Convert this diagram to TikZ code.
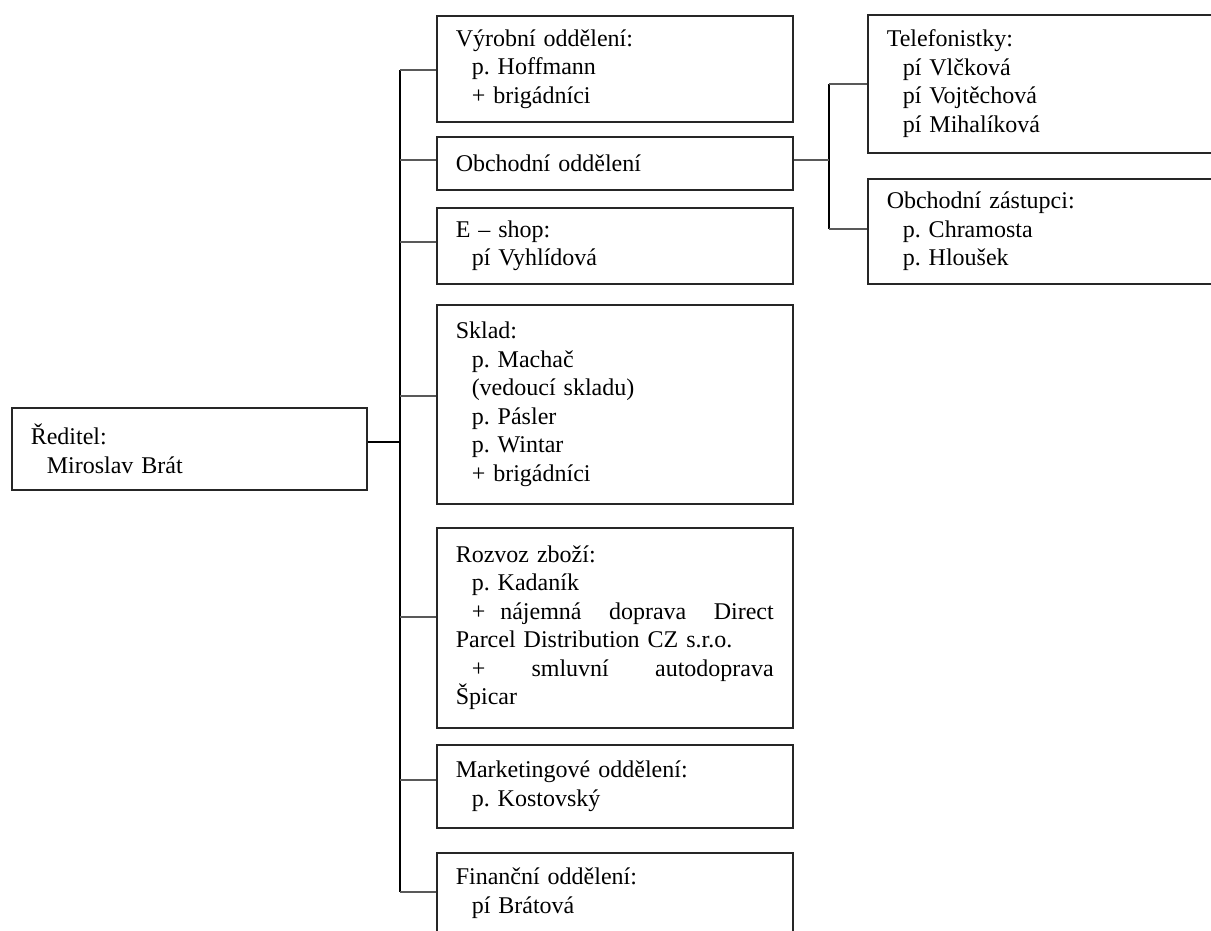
\documentclass[tikz,border=0pt]{standalone}
\usepackage{fontspec}
\setmainfont{Liberation Serif}
\frenchspacing
\newcommand\boxfont{\fontsize{24}{28.5}\selectfont\frenchspacing}
\newcommand\myind{\hspace*{16pt}}
\tikzset{
  orgbox/.style={draw=black!85, line width=1.5pt, rectangle, anchor=north west,
    inner xsep=19pt, inner ysep=0pt, align=left, font=\boxfont},
  stub/.style={draw=black!65, line width=2.4pt},
  trunk/.style={draw=black, line width=1.4pt}
}
\begin{document}
\begin{tikzpicture}[x=1pt,y=-1pt]
\useasboundingbox (0,0) rectangle (1211,930);
% director
\node[orgbox, text width=317pt, minimum height=82pt] (red) at (11,407)
  {Ředitel:\\ \myind Miroslav Brát};
% departments
\node[orgbox, text width=318pt, minimum height=106pt] (vyr) at (436,15)
  {Výrobní oddělení:\\ \myind p. Hoffmann\\ \myind + brigádníci};
\node[orgbox, text width=318pt, minimum height=53pt] (obch) at (436,136)
  {Obchodní oddělení};
\node[orgbox, text width=318pt, minimum height=76pt] (eshop) at (436,207)
  {E – shop:\\ \myind pí Vyhlídová};
\node[orgbox, text width=318pt, minimum height=199pt] (sklad) at (436,304)
  {Sklad:\\ \myind p. Machač\\ \myind (vedoucí skladu)\\ \myind p. Pásler\\ \myind p. Wintar\\ \myind + brigádníci};
\node[orgbox, text width=318pt, minimum height=200pt] (rozv) at (436,527)
  {Rozvoz zboží:\\ \myind p. Kadaník\\
   \makebox[\linewidth][l]{\myind+\hspace{15pt}nájemná\hfill doprava\hfill Direct}\\
   Parcel Distribution CZ s.r.o.\\
   \makebox[\linewidth][l]{\myind+\hfill smluvní\hfill autodoprava}\\
   Špicar};
\node[orgbox, text width=318pt, minimum height=83pt] (mark) at (436,744)
  {Marketingové oddělení:\\ \myind p. Kostovský};
\node[orgbox, text width=318pt, minimum height=81pt] (fin) at (436,852)
  {Finanční oddělení:\\ \myind pí Brátová};
% sub units
\node[orgbox, text width=320pt, minimum height=138pt] (tel) at (867,14)
  {Telefonistky:\\ \myind pí Vlčková\\ \myind pí Vojtěchová\\ \myind pí Mihalíková};
\node[orgbox, text width=320pt, minimum height=105pt] (zas) at (867,178)
  {Obchodní zástupci:\\ \myind p. Chramosta\\ \myind p. Hloušek};
% trunk coordinates
\coordinate (t1) at (400,70);
\coordinate (t2) at (400,160);
\coordinate (t3) at (400,242);
\coordinate (tr) at (400,442);
\coordinate (t4) at (400,396);
\coordinate (t5) at (400,617);
\coordinate (t6) at (400,780);
\coordinate (t7) at (400,892);
\coordinate (s0) at (829,160);
\coordinate (s1) at (829,84);
\coordinate (s2) at (829,229);
% connectors
\draw[trunk] (t1) -- (t7);
\draw[trunk] (tr -| red.east) -- (tr);
\draw[stub] (t1) -- (t1 -| vyr.west);
\draw[stub] (t2) -- (t2 -| obch.west);
\draw[stub] (t3) -- (t3 -| eshop.west);
\draw[stub] (t4) -- (t4 -| sklad.west);
\draw[stub] (t5) -- (t5 -| rozv.west);
\draw[stub] (t6) -- (t6 -| mark.west);
\draw[stub] (t7) -- (t7 -| fin.west);
\draw[trunk] (s1) -- (s2);
\draw[stub] (s0 -| obch.east) -- (s0);
\draw[stub] (s1) -- (s1 -| tel.west);
\draw[stub] (s2) -- (s2 -| zas.west);
\end{tikzpicture}
\end{document}
